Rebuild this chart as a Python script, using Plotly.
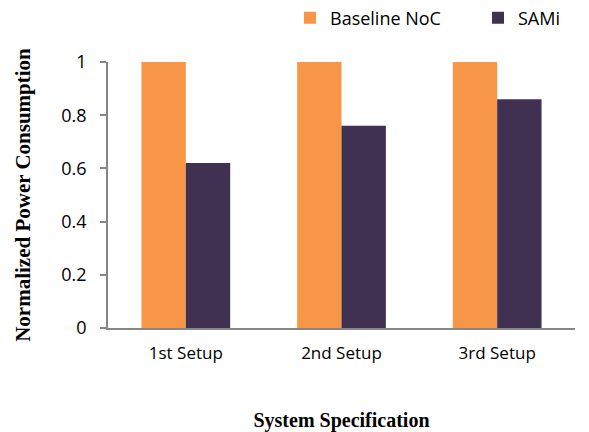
import plotly.graph_objects as go

categories = ["1st Setup", "2nd Setup", "3rd Setup"]
baseline_noc = [1.0, 1.0, 1.0]
sami = [0.62, 0.76, 0.86]
y_ticks = [0, 0.2, 0.4, 0.6, 0.8, 1]
y_tick_labels = ["0", "0.2", "0.4", "0.6", "0.8", "1"]

ORANGE = "#F79646"
PURPLE = "#403152"
AXIS_GRAY = "#868686"
SANS = "Open Sans, Noto Sans, sans-serif"
SERIF = "Liberation Serif, Times New Roman, serif"

fig = go.Figure()
fig.add_trace(go.Bar(x=categories, y=baseline_noc, name="Baseline NoC",
                     marker=dict(color=ORANGE, line=dict(width=0))))
fig.add_trace(go.Bar(x=categories, y=sami, name="SAMi",
                     marker=dict(color=PURPLE, line=dict(width=0))))

fig.update_layout(
    width=589, height=432,
    margin=dict(l=108, r=14, t=62, b=104, autoexpand=False),
    paper_bgcolor="white", plot_bgcolor="white",
    barmode="group", bargap=0.43, bargroupgap=0,
    showlegend=True,
    legend=dict(orientation="h",
                xref="container", yref="container",
                x=290 / 589, xanchor="left", y=1 - 18 / 432, yanchor="middle",
                font=dict(family=SANS, size=18, color="#000000"),
                itemwidth=30, traceorder="normal",
                entrywidth=143, entrywidthmode="pixels",
                bgcolor="rgba(0,0,0,0)"),
    font=dict(family=SANS, color="#000000"),
)

fig.update_xaxes(
    showline=True, linecolor=AXIS_GRAY, linewidth=1.5,
    showgrid=False, ticks="", zeroline=False,
    tickfont=dict(family=SANS, size=17, color="#000000"),
    ticklabelstandoff=9,
    title=dict(text="<b>System Specification</b>",
               font=dict(family=SERIF, size=20, color="#000000"), standoff=52),
)
fig.update_yaxes(
    range=[0, 1], tickvals=y_ticks, ticktext=y_tick_labels,
    showline=True, linecolor=AXIS_GRAY, linewidth=1.5,
    ticks="outside", ticklen=6, tickcolor=AXIS_GRAY, tickwidth=1.5,
    showgrid=False, zeroline=False,
    tickfont=dict(family=SANS, size=18, color="#000000"),
    ticklabelstandoff=10,
    title=dict(text="<b>Normalized Power Consumption</b>",
               font=dict(family=SERIF, size=21, color="#000000"), standoff=25),
)

fig.write_html("out.html")
